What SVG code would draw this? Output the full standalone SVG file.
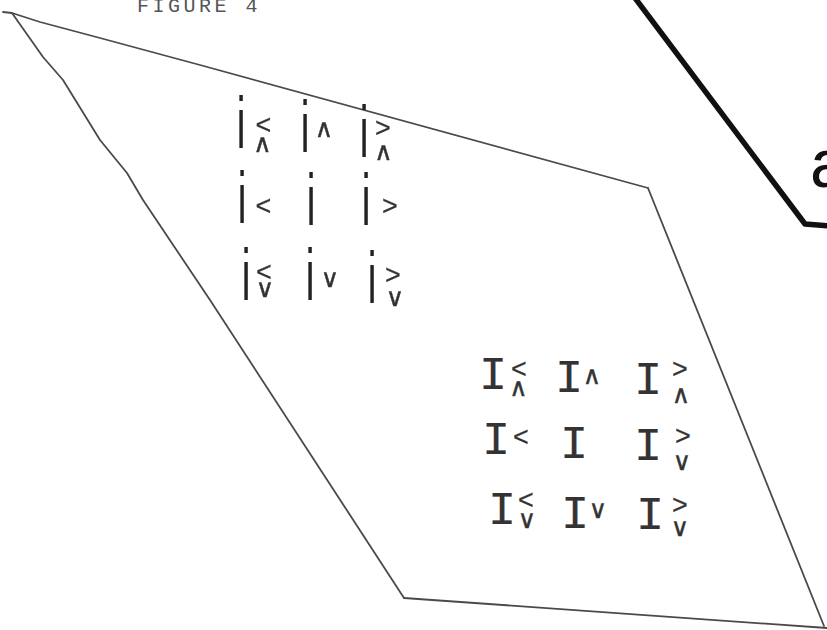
<svg xmlns="http://www.w3.org/2000/svg" width="827" height="630" viewBox="0 0 827 630">
<defs>
<filter id="gray" x="0" y="0" width="1" height="1"><feOffset dx="0" dy="0"/></filter>
</defs>
<style>
.edge{fill:none;stroke:#4a4a4a;stroke-width:1.8;stroke-linejoin:round;stroke-linecap:round}
.thick{fill:none;stroke:#111;stroke-width:5.5;stroke-linejoin:round}
.i{font-family:"Liberation Sans",Arial,sans-serif;font-size:52px;fill:#222;text-anchor:middle}
.I{font-family:"Liberation Mono","Courier New",monospace;font-size:47px;fill:#333;stroke:#333;stroke-width:0.2;text-anchor:middle}
.m{font-family:"Liberation Sans",Arial,sans-serif;font-size:27px;fill:#333;stroke:#333;stroke-width:0.2;text-anchor:middle}
.w{font-family:"DejaVu Sans",sans-serif;font-size:25px;fill:#333;stroke:#333;stroke-width:0.4;text-anchor:middle}
.title{font-family:"Liberation Mono","Courier New",monospace;font-size:20px;fill:#555;letter-spacing:3.5px}
</style>
<rect width="827" height="630" fill="#fff"/>
<text class="title" x="137" y="12">FIGURE 4</text>
<g id="connectors">
<path class="edge" d="M3,12 L12,13 L40,22 L100,38 L200,65 L648,188"/>
<path class="edge" d="M12,13 L43,57 L63,80 L100,140 L127,173 L143,200 L210,300 L404,598"/>
<path class="edge" d="M648,188 L824,626"/>
<path class="edge" d="M404,598 L827,628"/>
<path class="thick" d="M635,-2 L805,224 L829,226"/>
</g>
<g id="label-a"><text x="810" y="187" style="font-family:'Liberation Sans',Arial,sans-serif;font-size:68px;fill:#111">a</text></g>
<g id="small-i" filter="url(#gray)">
<g id="i1"><text class="i" transform="translate(241,148) scale(0.75,1.4)">i</text><text class="m" x="263.5" y="134">&lt;</text><text class="w" x="262.5" y="152">∧</text></g>
<g id="i2"><text class="i" transform="translate(305,152) scale(0.75,1.4)">i</text><text class="w" x="324" y="137">∧</text></g>
<g id="i3"><text class="i" transform="translate(364,157) scale(0.75,1.4)">i</text><text class="m" x="383" y="137">&gt;</text><text class="w" x="383.5" y="160">∧</text></g>
<g id="i4"><text class="i" transform="translate(242,223) scale(0.75,1.4)">i</text><text class="m" x="263.5" y="215">&lt;</text></g>
<g id="i5"><text class="i" transform="translate(311,225) scale(0.75,1.4)">i</text></g>
<g id="i6"><text class="i" transform="translate(366,225) scale(0.75,1.4)">i</text><text class="m" x="390" y="215">&gt;</text></g>
<g id="i7"><text class="i" transform="translate(246,300) scale(0.75,1.4)">i</text><text class="m" x="264" y="281">&lt;</text><text class="w" x="265" y="297">∨</text></g>
<g id="i8"><text class="i" transform="translate(310,300) scale(0.75,1.4)">i</text><text class="w" x="330" y="287">∨</text></g>
<g id="i9"><text class="i" transform="translate(372,303) scale(0.75,1.4)">i</text><text class="m" x="393" y="284">&gt;</text><text class="w" x="395" y="306">∨</text></g>
</g>
<g id="I1"><text class="I" x="493" y="389">I</text><text class="m" x="519" y="378">&lt;</text><text class="w" x="518.5" y="396">∧</text></g>
<g id="I2"><text class="I" x="569" y="392">I</text><text class="w" x="592" y="384">∧</text></g>
<g id="I3"><text class="I" x="648" y="394">I</text><text class="m" x="680" y="378">&gt;</text><text class="w" x="681" y="403">∧</text></g>
<g id="I4"><text class="I" x="496" y="454">I</text><text class="m" x="521" y="446">&lt;</text></g>
<g id="I5"><text class="I" x="574" y="458">I</text></g>
<g id="I6"><text class="I" x="648" y="460">I</text><text class="m" x="683" y="445">&gt;</text><text class="w" x="682" y="470">∨</text></g>
<g id="I7"><text class="I" x="502" y="524">I</text><text class="m" x="526" y="509">&lt;</text><text class="w" x="527" y="528">∨</text></g>
<g id="I8"><text class="I" x="575" y="528">I</text><text class="w" x="598" y="518">∨</text></g>
<g id="I9"><text class="I" x="650" y="529">I</text><text class="m" x="680" y="514">&gt;</text><text class="w" x="680" y="536">∨</text></g>
</svg>
